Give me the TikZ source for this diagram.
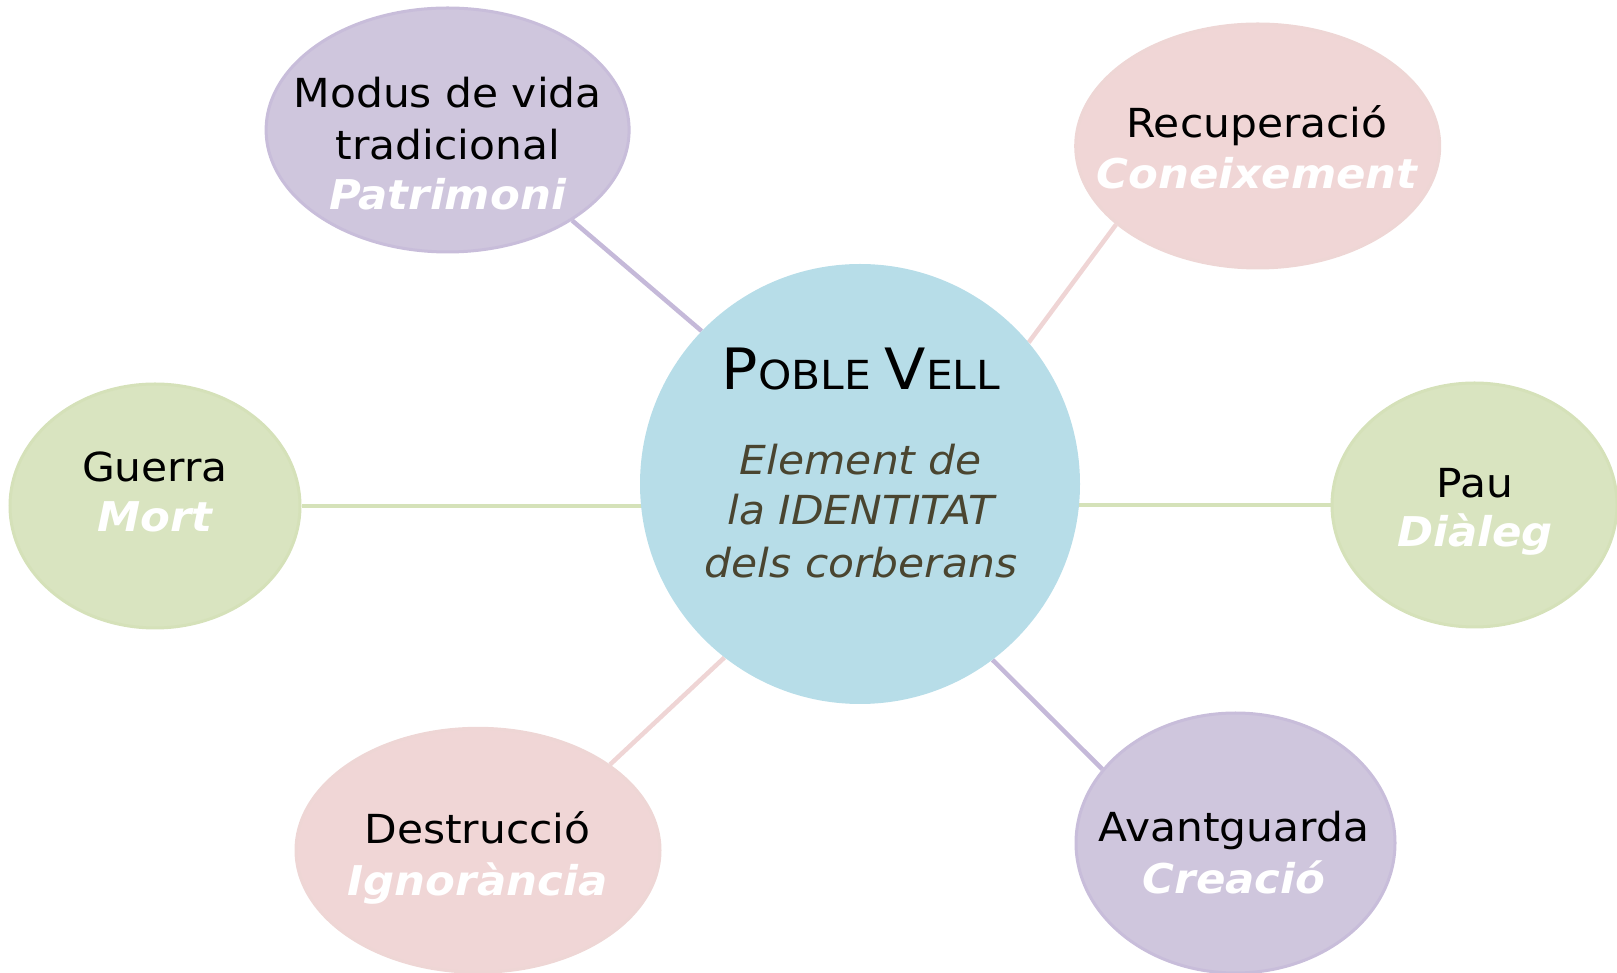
\documentclass[tikz,border=0pt]{standalone}
\usepackage{fontspec}
\setmainfont[FakeStretch=1.06]{DejaVu Sans}
\usetikzlibrary{shapes.geometric}
\definecolor{hubblue}{HTML}{B7DDE8}
\definecolor{purfill}{HTML}{CFC6DD}
\definecolor{purdraw}{HTML}{C8BDDA}
\definecolor{purline}{HTML}{C5B9D9}
\definecolor{pinkfill}{HTML}{F0D6D6}
\definecolor{pinkdraw}{HTML}{EED6D5}
\definecolor{pinkline}{HTML}{EFD5D5}
\definecolor{grnfill}{HTML}{D9E4C0}
\definecolor{grndraw}{HTML}{D5E1B9}
\definecolor{grnline}{HTML}{D5E2B9}
\definecolor{olive}{HTML}{4A4530}
\pgfdeclarelayer{bg}
\pgfsetlayers{bg,main}
\begin{document}
\begin{tikzpicture}[x=1pt,y=1pt,
  hub/.style={circle, fill=hubblue, inner sep=0, minimum size=440},
  bub/.style={ellipse, inner sep=0, line width=3pt},
  purbub/.style={bub, fill=purfill, draw=purdraw},
  pinkbub/.style={bub, fill=pinkfill, draw=pinkdraw},
  grnbub/.style={bub, fill=grnfill, draw=grndraw},
  lbl/.style={anchor=base, inner sep=0, font=\fontsize{40}{48}\selectfont},
  sub/.style={anchor=base, inner sep=0, text=white, font=\fontsize{41}{49}\selectfont\bfseries\itshape},
  idl/.style={anchor=base, inner sep=0, text=olive, font=\fontsize{40}{48}\selectfont\itshape},
  link/.style={line width=4.5pt}
]
\useasboundingbox (0,0) rectangle (1617,972);

% shapes
\node[hub] (hub) at (860,488) {};
\node[purbub, minimum width=363, minimum height=244] (modus) at (447.6,842) {};
\node[pinkbub, minimum width=364, minimum height=244] (recup) at (1257.7,826) {};
\node[grnbub, minimum width=290, minimum height=244] (guerra) at (155,466) {};
\node[grnbub, minimum width=285, minimum height=244] (pau) at (1474.5,467) {};
\node[pinkbub, minimum width=364, minimum height=244] (destr) at (478,121.7) {};
\node[purbub, minimum width=319, minimum height=260] (avant) at (1235.5,129) {};

% connectors (behind the shapes)
\begin{pgfonlayer}{bg}
\draw[link, purline]  (hub.136)   -- (modus.-36.7);
\draw[link, pinkline] (hub.40.8)  -- (recup.209.6);
\draw[link, grnline]  (guerra.east) -- (guerra.east -| hub.center);
\draw[link, grnline]  (pau.west) -- (pau.west -| hub.center);
\draw[link, pinkline] (hub.232.9) -- (destr.33.3);
\draw[link, purline]  (hub.-53.6) -- (avant.151);
\end{pgfonlayer}

% center texts
\node[anchor=base, inner sep=0] (title) at (861,582)
  {{\fontsize{57}{60}\selectfont P}{\fontsize{40}{46}\selectfont OBLE }{\fontsize{57}{60}\selectfont V}{\fontsize{40}{46}\selectfont ELL}};
\node[idl] (id1) at (861,497) {Element de};
\node[idl] (id2) at (861,447) {la IDENTITAT};
\node[idl] (id3) at (861,394) {dels corberans};

% satellite texts
\node[lbl] (t1a) at (447.6,864) {Modus de vida};
\node[lbl] (t1b) at (447.6,812) {tradicional};
\node[sub] (t1c) at (447.6,762) {Patrimoni};

\node[lbl] (t2a) at (1257,834) {Recuperació};
\node[sub] (t2b) at (1257,783) {Coneixement};

\node[lbl] (t3a) at (155,490) {Guerra};
\node[sub] (t3b) at (155,440) {Mort};

\node[lbl] (t4a) at (1475,474) {Pau};
\node[sub] (t4b) at (1475,425) {Diàleg};

\node[lbl] (t5a) at (477.5,128.4) {Destrucció};
\node[sub] (t5b) at (477.5,77) {Ignorància};

\node[lbl] (t6a) at (1234,130.3) {Avantguarda};
\node[sub] (t6b) at (1234,78.7) {Creació};
\end{tikzpicture}
\end{document}
